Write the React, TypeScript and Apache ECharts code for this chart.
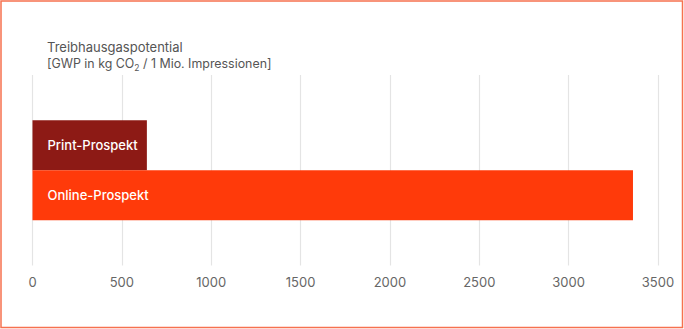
import React, { useEffect, useRef } from "react";
import * as echarts from "echarts";

const categories = ["GWP"];
const seriesNames = ["Print-Prospekt", "Online-Prospekt"];
const printValues = [640];
const onlineValues = [3360];
const xTicks = { min: 0, max: 3500, interval: 500 };
const titleLines = ["Treibhausgaspotential", "{l2|[GWP in kg CO}{sub|2}{l2| / 1 Mio. Impressionen]}"];

export default function App() {
  const ref = useRef<HTMLDivElement>(null);
  useEffect(() => {
    if (!ref.current) return;
    const chart = echarts.init(ref.current, null, { renderer: "svg" });
    const font = "Inter, 'Noto Sans', sans-serif";
    const label = {
      show: true,
      position: "insideLeft",
      distance: 15,
      color: "#ffffff",
      fontSize: 13,
      fontWeight: 500,
      fontFamily: font,
      formatter: (p: any) => p.seriesName,
    };
    chart.setOption({
      animation: false,
      backgroundColor: "#ffffff",
      title: {
        text: titleLines.join("\n"),
        left: 47,
        top: 38,
        padding: 0,
        textStyle: {
          color: "#555555",
          fontSize: 13,
          fontWeight: 400,
          fontFamily: font,
          lineHeight: 17,
          rich: {
            l2: { fontSize: 12.4, color: "#555555", fontFamily: font, lineHeight: 17 },
            sub: { fontSize: 8.5, verticalAlign: "bottom", color: "#555555", fontFamily: font, padding: [6, 0, 0, 0], lineHeight: 17 },
          },
        },
      },
      graphic: [
        {
          type: "rect",
          shape: { x: 1, y: 1, width: 681.5, height: 326.5 },
          style: { fill: "none", stroke: "#f6714f", lineWidth: 1.5 },
          silent: true,
        },
      ],
      grid: { left: 32.5, right: 26, top: 75, bottom: 63.5, containLabel: false },
      xAxis: {
        type: "value",
        min: xTicks.min,
        max: xTicks.max,
        interval: xTicks.interval,
        axisLine: { show: false },
        axisTick: { show: false },
        axisLabel: {
          color: "#666666",
          fontSize: 13,
          fontFamily: font,
          margin: 10,
          formatter: (v: number) => String(v),
        },
        splitLine: { show: true, lineStyle: { color: "#e4e4e4", width: 1.2 } },
      },
      yAxis: {
        type: "category",
        data: categories,
        inverse: true,
        axisLine: { show: false },
        axisTick: { show: false },
        axisLabel: { show: false },
        splitLine: { show: false },
      },
      series: [
        {
          type: "bar",
          name: seriesNames[0],
          data: printValues,
          barWidth: 50,
          barGap: "0%",
          itemStyle: { color: "#8d1a15" },
          label,
        },
        {
          type: "bar",
          name: seriesNames[1],
          data: onlineValues,
          barWidth: 50,
          barGap: "0%",
          itemStyle: { color: "#ff3a0a" },
          label,
        },
      ],
    });
    return () => chart.dispose();
  }, []);
  return (
    <div style={{ position: "fixed", left: 0, top: 0, width: 684, height: 329 }}>
      <div ref={ref} style={{ width: 684, height: 329 }} />
    </div>
  );
}
